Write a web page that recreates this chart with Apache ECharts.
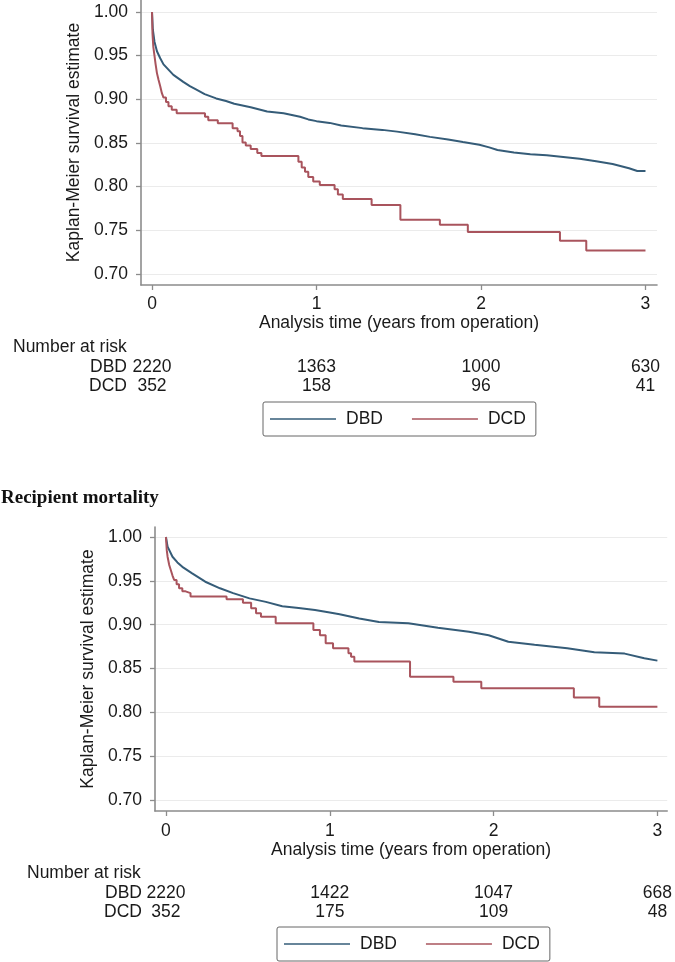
<!DOCTYPE html>
<html>
<head>
<meta charset="utf-8">
<script src="https://cdn.jsdelivr.net/npm/echarts@6/dist/echarts.min.js"></script>
<style>
html,body{margin:0;padding:0;background:#fff;}
#chart{width:675px;height:962px;}
</style>
</head>
<body>
<div id="chart"></div>
<script>
// ---------- DATA ----------
var seriesNames = ['DBD', 'DCD'];
var xTicks = [0, 1, 2, 3];
var yTicks = [0.70, 0.75, 0.80, 0.85, 0.90, 0.95, 1.00];

// Graft survival (top panel): [years, KM estimate]
var topDBD = [[0,1.00],[0.005,0.980],[0.015,0.966],[0.03,0.955],[0.05,0.947],[0.07,0.940],[0.1,0.934],[0.13,0.928],[0.16,0.924],[0.19,0.920],[0.23,0.915],[0.27,0.911],[0.32,0.906],[0.39,0.901],[0.45,0.898],[0.5,0.895],[0.6,0.891],[0.7,0.886],[0.8,0.884],[0.9,0.880],[0.95,0.877],[1.0,0.875],[1.08,0.873],[1.15,0.870],[1.28,0.867],[1.4,0.865],[1.49,0.863],[1.6,0.860],[1.69,0.857],[1.8,0.854],[1.89,0.851],[1.99,0.848],[2.05,0.845],[2.1,0.842],[2.2,0.839],[2.3,0.837],[2.4,0.836],[2.5,0.834],[2.6,0.832],[2.7,0.829],[2.8,0.826],[2.9,0.821],[2.95,0.818],[3.0,0.818]];
var topDCD = [[0,1.0],[0.003,0.975],[0.008,0.96],[0.015,0.95],[0.022,0.94],[0.03,0.93],[0.04,0.922],[0.05,0.915],[0.06,0.907],[0.07,0.902],[0.085,0.897],[0.1,0.892],[0.12,0.888],[0.15,0.884],[0.322,0.880],[0.342,0.876],[0.40,0.8725],[0.49,0.867],[0.52,0.8635],[0.535,0.858],[0.55,0.8505],[0.57,0.847],[0.60,0.843],[0.64,0.8385],[0.665,0.835],[0.89,0.8285],[0.91,0.822],[0.93,0.817],[0.95,0.811],[0.98,0.806],[1.02,0.802],[1.11,0.797],[1.13,0.791],[1.16,0.786],[1.335,0.779],[1.51,0.762],[1.75,0.7565],[1.92,0.748],[2.48,0.738],[2.64,0.727],[3.0,0.727]];
var topRiskDBD = [2220, 1363, 1000, 630];
var topRiskDCD = [352, 158, 96, 41];

// Recipient mortality (bottom panel)
var botDBD = [[0,1.0],[0.01,0.989],[0.04,0.9775],[0.07,0.971],[0.1,0.966],[0.16,0.9586],[0.24,0.949],[0.33,0.9415],[0.41,0.936],[0.51,0.930],[0.61,0.926],[0.71,0.921],[0.81,0.919],[0.91,0.9167],[1.0,0.914],[1.06,0.912],[1.18,0.907],[1.3,0.903],[1.48,0.9015],[1.66,0.8966],[1.85,0.892],[1.97,0.888],[2.09,0.8806],[2.25,0.877],[2.45,0.873],[2.615,0.8685],[2.8,0.867],[2.92,0.8616],[3.0,0.859]];
var botDCD = [[0,1.0],[0.005,0.985],[0.01,0.9775],[0.02,0.968],[0.03,0.962],[0.04,0.956],[0.05,0.951],[0.065,0.946],[0.08,0.9415],[0.1,0.938],[0.12,0.936],[0.15,0.932],[0.37,0.929],[0.47,0.925],[0.52,0.9187],[0.55,0.913],[0.58,0.909],[0.67,0.9015],[0.9,0.894],[0.94,0.888],[0.975,0.8787],[1.02,0.873],[1.114,0.8673],[1.13,0.8635],[1.15,0.858],[1.49,0.8406],[1.755,0.835],[1.925,0.8274],[2.49,0.817],[2.645,0.8064],[3.0,0.8064]];
var botRiskDBD = [2220, 1422, 1047, 668];
var botRiskDCD = [352, 175, 109, 48];

// ---------- STYLE ----------
var FONT = "'Liberation Sans', Arial, sans-serif";
var FS = 17.5;
var TXT = '#1a1a1a';
var AXC = '#8c8c8c';
var BLUE = '#355c78';
var RED = '#a9545d';

function mainX(gi, min, max, labelMargin, nameGap) {
  return {
    type: 'value', gridIndex: gi, min: min, max: max, position: 'bottom',
    axisLine: {show: true, onZero: false, lineStyle: {color: AXC, width: 1.6}},
    axisTick: {show: true, length: 5, customValues: xTicks, lineStyle: {color: AXC, width: 1.3}},
    axisLabel: {customValues: xTicks, margin: labelMargin, color: TXT, fontSize: FS, fontFamily: FONT,
      formatter: function (v) { return String(Math.round(v)); }},
    splitLine: {show: false},
    name: 'Analysis time (years from operation)', nameLocation: 'middle', nameGap: nameGap,
    nameTextStyle: {color: TXT, fontSize: FS, fontFamily: FONT}
  };
}
function riskX(gi, min, max, offset, label, arr, nameGap) {
  return {
    type: 'value', gridIndex: gi, min: min, max: max, position: 'bottom', offset: offset,
    axisLine: {show: false}, axisTick: {show: false}, splitLine: {show: false},
    axisLabel: {customValues: xTicks, margin: 0, verticalAlign: 'middle', color: TXT, fontSize: FS, fontFamily: FONT,
      formatter: function (v) { return String(arr[Math.round(v)]); }},
    name: label, nameLocation: 'start', nameGap: nameGap,
    nameTextStyle: {color: TXT, fontSize: FS, fontFamily: FONT, verticalAlign: 'middle', align: 'right'}
  };
}
function mainY(gi, min, max, nameGap) {
  return {
    type: 'value', gridIndex: gi, min: min, max: max,
    axisLine: {show: true, onZero: false, lineStyle: {color: AXC, width: 1.6}},
    axisTick: {show: true, length: 5, customValues: yTicks, lineStyle: {color: AXC, width: 1.3}},
    axisLabel: {customValues: yTicks, margin: 13, color: TXT, fontSize: FS, fontFamily: FONT,
      formatter: function (v) { return v.toFixed(2); }},
    splitLine: {show: true, lineStyle: {color: '#ebebeb', width: 1}},
    name: 'Kaplan-Meier survival estimate', nameLocation: 'middle', nameGap: nameGap,
    nameTextStyle: {color: TXT, fontSize: FS, fontFamily: FONT}
  };
}
function line(name, data, xi, yi, color, step) {
  return {
    type: 'line', name: name, data: data, xAxisIndex: xi, yAxisIndex: yi,
    step: step ? 'end' : false, symbol: 'none', smooth: false,
    lineStyle: {color: color, width: 2}, itemStyle: {color: color}, silent: true
  };
}
function legend(left, top) {
  return {
    data: seriesNames, left: left, top: top, orient: 'horizontal',
    icon: 'rect', itemWidth: 66, itemHeight: 1.6, itemGap: 29,
    padding: [8, 10, 8, 7],
    borderColor: '#666', borderWidth: 1, borderRadius: 2,
    textStyle: {color: TXT, fontSize: FS, fontFamily: FONT, padding: [0, 0, 0, 5]}
  };
}

var T = {xmin: -0.0669, xmax: 3.070, ymin: 0.6874, ymax: 1.0137};
var B = {xmin: -0.0668, xmax: 3.060, ymin: 0.6875, ymax: 1.0114};

var option = {
  backgroundColor: '#ffffff',
  animation: false,
  title: [
    {text: 'Number at risk', left: 13, top: 338, padding: 0,
      textStyle: {color: TXT, fontSize: FS, fontWeight: 'normal', fontFamily: FONT}},
    {text: 'Recipient mortality', left: 1, top: 489, padding: 0,
      textStyle: {color: '#111', fontSize: 19, fontWeight: 'bold', fontFamily: "'Liberation Serif', 'Times New Roman', serif"}},
    {text: 'Number at risk', left: 27, top: 864, padding: 0,
      textStyle: {color: TXT, fontSize: FS, fontWeight: 'normal', fontFamily: FONT}}
  ],
  legend: [legend(263, 402), legend(277, 927)],
  grid: [
    {left: 141, top: 0, width: 516, height: 285},
    {left: 155, top: 527, width: 515, height: 284}
  ],
  xAxis: [
    mainX(0, T.xmin, T.xmax, 10, 28),
    riskX(0, T.xmin, T.xmax, 82, 'DBD', topRiskDBD, 14),
    riskX(0, T.xmin, T.xmax, 101, 'DCD', topRiskDCD, 14),
    mainX(1, B.xmin, B.xmax, 11, 27),
    riskX(1, B.xmin, B.xmax, 82, 'DBD', botRiskDBD, 13),
    riskX(1, B.xmin, B.xmax, 101, 'DCD', botRiskDCD, 13)
  ],
  yAxis: [
    mainY(0, T.ymin, T.ymax, 57),
    mainY(1, B.ymin, B.ymax, 56)
  ],
  series: [
    line('DBD', topDBD, 0, 0, BLUE, false),
    line('DCD', topDCD, 0, 0, RED, true),
    line('DBD', botDBD, 3, 1, BLUE, false),
    line('DCD', botDCD, 3, 1, RED, true)
  ]
};

var chart = echarts.init(document.getElementById('chart'), null, {renderer: 'canvas'});
chart.setOption(option);
</script>
</body>
</html>
